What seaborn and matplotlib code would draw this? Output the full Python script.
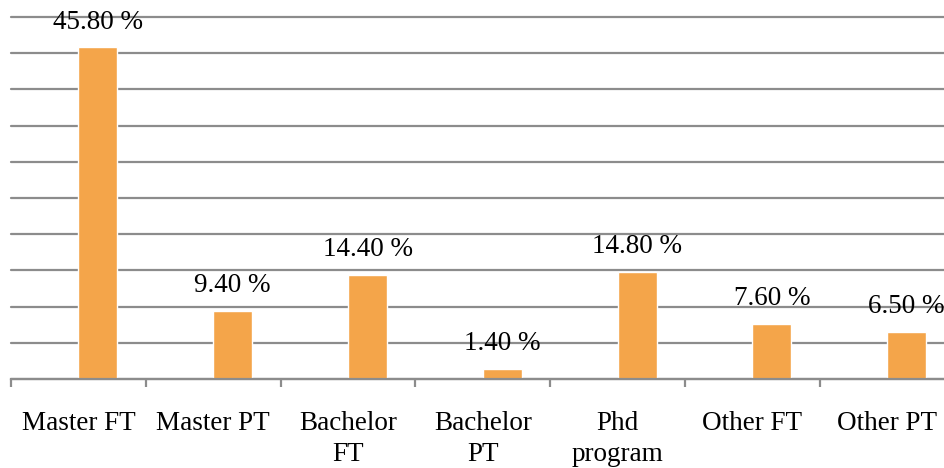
import matplotlib
matplotlib.use("Agg")
import matplotlib.pyplot as plt
import seaborn as sns
import pandas as pd
import numpy as np

categories = ["Master FT", "Master PT", "Bachelor\nFT", "Bachelor\nPT",
              "Phd\nprogram", "Other FT", "Other PT"]
shares = [45.8, 9.4, 14.4, 1.4, 14.8, 7.6, 6.5]
series_name = "Share"
y_max = 50
y_step = 5

sns.set_theme(style="white")
plt.rcParams["font.family"] = ["Liberation Serif", "DejaVu Serif"]

df = pd.DataFrame({"category": categories, "share": shares, "series": series_name})

fig = plt.figure(figsize=(9.44, 4.68), dpi=100)
cat_px = 134.8
ax = fig.add_axes([11 / 944, 89 / 468, 7 * cat_px / 944, 362 / 468])

bar_color = "#F4A54A"
grid_color = "#8C8C8C"

# Clustered layout with an empty leading series, so bars sit right of centre
sns.barplot(data=df, x="category", y="share", hue="series",
            hue_order=["", series_name], palette={"": bar_color, series_name: bar_color},
            order=categories, width=0.58, dodge=True, legend=False,
            saturation=1, ax=ax, errorbar=None)

ax.set_xlim(-0.5, len(categories) - 0.5)
ax.set_ylim(0, y_max)
ax.set_yticks(np.arange(0, y_max + 0.1, y_step))
ax.yaxis.grid(True, color=grid_color, linewidth=1.6)
for gl in ax.get_ygridlines():
    gl.set_clip_on(False)
ax.set_axisbelow(True)
ax.tick_params(axis="y", left=False, labelleft=False)
ax.set_xlabel("")
ax.set_ylabel("")

for side in ["left", "right", "top"]:
    ax.spines[side].set_visible(False)
ax.spines["bottom"].set_color(grid_color)
ax.spines["bottom"].set_linewidth(1.6)

ax.set_xticks(range(len(categories)))
ax.set_xticklabels(categories, fontsize=19.5, color="black", linespacing=1.3)
ax.tick_params(axis="x", which="major", length=0, pad=23)
ax.set_xticks(np.arange(-0.5, len(categories)), minor=True)
ax.tick_params(axis="x", which="minor", bottom=True, length=5.5, width=1.6,
               color=grid_color, direction="out")
for lab in ax.get_xticklabels():
    lab.set_verticalalignment("top")

for container in ax.containers:
    vals = [p.get_height() for p in container]
    if any(np.isfinite(v) and v > 0 for v in vals):
        ax.bar_label(container, labels=[f"{v:.2f} %" for v in vals],
                     padding=9, fontsize=19.5, color="black")

fig.savefig("out.png", dpi=100)
